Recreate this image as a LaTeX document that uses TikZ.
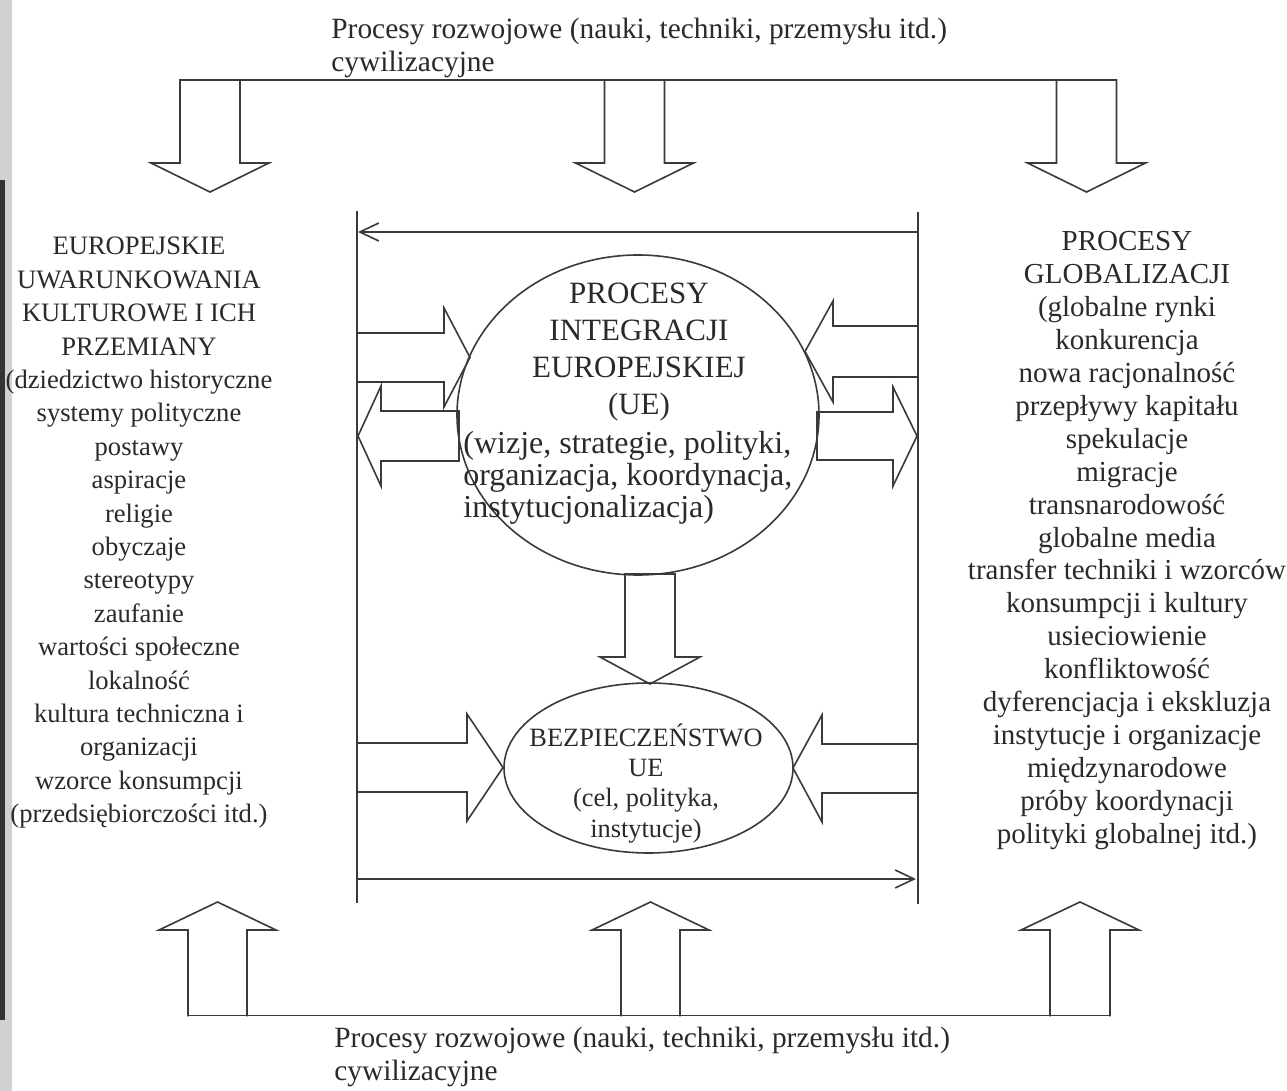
\documentclass[tikz,border=0pt]{standalone}
\usepackage{fontspec}
\setmainfont{Liberation Serif}
\usetikzlibrary{shapes.geometric,arrows.meta}
\definecolor{ink}{HTML}{3A3A3A}
\definecolor{txt}{HTML}{2A2A2A}
\newcommand\fsz[2]{\fontsize{#1}{#2}\selectfont}
\tikzset{
  ln/.style={draw=ink, line width=0.8pt, line join=miter, line cap=rect},
  thinarrow/.style={draw=ink, line width=0.8pt, -{Straight Barb[length=9.5pt,width=9pt]}},
  oval/.style={draw=ink, line width=0.8pt, ellipse, inner sep=0pt},
  lbl/.style={inner sep=0pt, text=txt},
}
\begin{document}
\begin{tikzpicture}[x=0.5pt,y=-0.5pt]
\fill[white] (0,0) rectangle (1287,1091);
\useasboundingbox (0,0) rectangle (1287,1091);
% scan edge
\fill[black!18] (0,0) rectangle (12,1091);
\fill[black!80] (0,180) rectangle (5,1020);

% ---------- texts ----------
\node[lbl, anchor=base west] (toptxt) at (331,39)
  {\fsz{14.7pt}{16.5pt}\begin{tabular}[t]{@{}l@{}}Procesy rozwojowe (nauki, techniki, przemysłu itd.)\\cywilizacyjne\end{tabular}};
\node[lbl, anchor=base west] (bottxt) at (334,1047)
  {\fsz{14.7pt}{16.5pt}\begin{tabular}[t]{@{}l@{}}Procesy rozwojowe (nauki, techniki, przemysłu itd.)\\cywilizacyjne\end{tabular}};

\node[lbl, anchor=base] (left) at (139,255)
  {\fsz{13.3pt}{16.7pt}\begin{tabular}[t]{@{}c@{}}EUROPEJSKIE\\UWARUNKOWANIA\\KULTUROWE I ICH\\PRZEMIANY\\(dziedzictwo historyczne\\systemy polityczne\\postawy\\aspiracje\\religie\\obyczaje\\stereotypy\\zaufanie\\wartości społeczne\\lokalność\\kultura techniczna i\\organizacji\\wzorce konsumpcji\\(przedsiębiorczości itd.)\end{tabular}};

\node[lbl, anchor=base] (right) at (1127,251)
  {\fsz{14.5pt}{16.45pt}\begin{tabular}[t]{@{}c@{}}PROCESY\\GLOBALIZACJI\\(globalne rynki\\konkurencja\\nowa racjonalność\\przepływy kapitału\\spekulacje\\migracje\\transnarodowość\\globalne media\\transfer techniki i wzorców\\konsumpcji i kultury\\usieciowienie\\konfliktowość\\dyferencjacja i ekskluzja\\instytucje i organizacje\\międzynarodowe\\próby koordynacji\\polityki globalnej itd.)\end{tabular}};

% ---------- the two ovals ----------
\node[oval, minimum width=181pt, minimum height=160pt] (ue) at (638,415) {};
\node[oval, minimum width=144.5pt, minimum height=85pt] (bezp) at (648.5,768) {};

\node[lbl, anchor=base] (uetitle) at (639,304)
  {\fsz{15.5pt}{18.4pt}\begin{tabular}[t]{@{}c@{}}PROCESY\\INTEGRACJI\\EUROPEJSKIEJ\\(UE)\end{tabular}};
\node[lbl, anchor=base west] (uebody) at (463,454)
  {\fsz{16pt}{16pt}\begin{tabular}[t]{@{}l@{}}(wizje, strategie, polityki,\\organizacja, koordynacja,\\instytucjonalizacja)\end{tabular}};

\node[lbl, anchor=base] (bezptxt) at (646,746)
  {\fsz{13.2pt}{15.25pt}\begin{tabular}[t]{@{}c@{}}BEZPIECZEŃSTWO\\UE\\(cel, polityka,\\instytucje)\end{tabular}};

% ---------- frame lines ----------
\coordinate (LFt) at (357,212); \coordinate (LFb) at (357,902);
\coordinate (RFt) at (918,213); \coordinate (RFb) at (918,903);
\draw[ln] (LFt) -- (LFb);
\draw[ln] (RFt) -- (RFb);
\coordinate (aTopR) at (918,232); \coordinate (aTopL) at (358,232);
\draw[thinarrow] (aTopR) -- (aTopL);
\coordinate (aBotL) at (357,879); \coordinate (aBotR) at (916,879);
\draw[thinarrow] (aBotL) -- (aBotR);

% ---------- top comb (downward arrows) ----------
\draw[ln] (180,80) -- (1116.5,80);
\draw[ln] (180,80) -- (180,163) -- (151,163) -- (210,192) -- (269,163) -- (240,163) -- (240,80);
\draw[ln] (604.5,80) -- (604.5,163) -- (575.5,163) -- (634.5,192) -- (693.5,163) -- (664.5,163) -- (664.5,80);
\draw[ln] (1056.5,80) -- (1056.5,163) -- (1027.5,163) -- (1086.5,192) -- (1145.5,163) -- (1116.5,163) -- (1116.5,80);

% ---------- bottom comb (upward arrows) ----------
\draw[ln] (188,1015.5) -- (1110,1015.5);
\draw[ln] (188,1015.5) -- (188,930) -- (159,930) -- (217.5,902) -- (276,930) -- (247,930) -- (247,1015.5);
\draw[ln] (621,1015.5) -- (621,930) -- (592,930) -- (650.5,902) -- (709,930) -- (680,930) -- (680,1015.5);
\draw[ln] (1050,1015.5) -- (1050,930) -- (1021,930) -- (1080,902) -- (1139,930) -- (1110,930) -- (1110,1015.5);

% ---------- block arrows around the big oval ----------
\draw[ln] (357,333) -- (444,333) -- (444,308) -- (470,357.5) -- (444,407) -- (444,382) -- (357,382);
\draw[ln] (459,411) -- (381,411) -- (381,386) -- (358,436) -- (381,486) -- (381,461) -- (459,461) -- cycle;
\draw[ln] (918,326) -- (833,326) -- (833,301) -- (805,351.5) -- (833,402) -- (833,377) -- (918,377);
\draw[ln] (817,412) -- (893,412) -- (893,387) -- (917,436) -- (893,486) -- (893,460) -- (817,460) -- cycle;

% ---------- down arrow between the ovals ----------
\draw[ln] (625,574) -- (625,657) -- (600,657) -- (650,684) -- (700,657) -- (675,657) -- (675,574) -- cycle;

% ---------- block arrows around the small oval ----------
\draw[ln] (357,743) -- (467,743) -- (467,714) -- (503,767.5) -- (467,821) -- (467,792) -- (357,792);
\draw[ln] (918,744) -- (822,744) -- (822,715) -- (793,768) -- (822,822) -- (822,793) -- (918,793);
\end{tikzpicture}
\end{document}
